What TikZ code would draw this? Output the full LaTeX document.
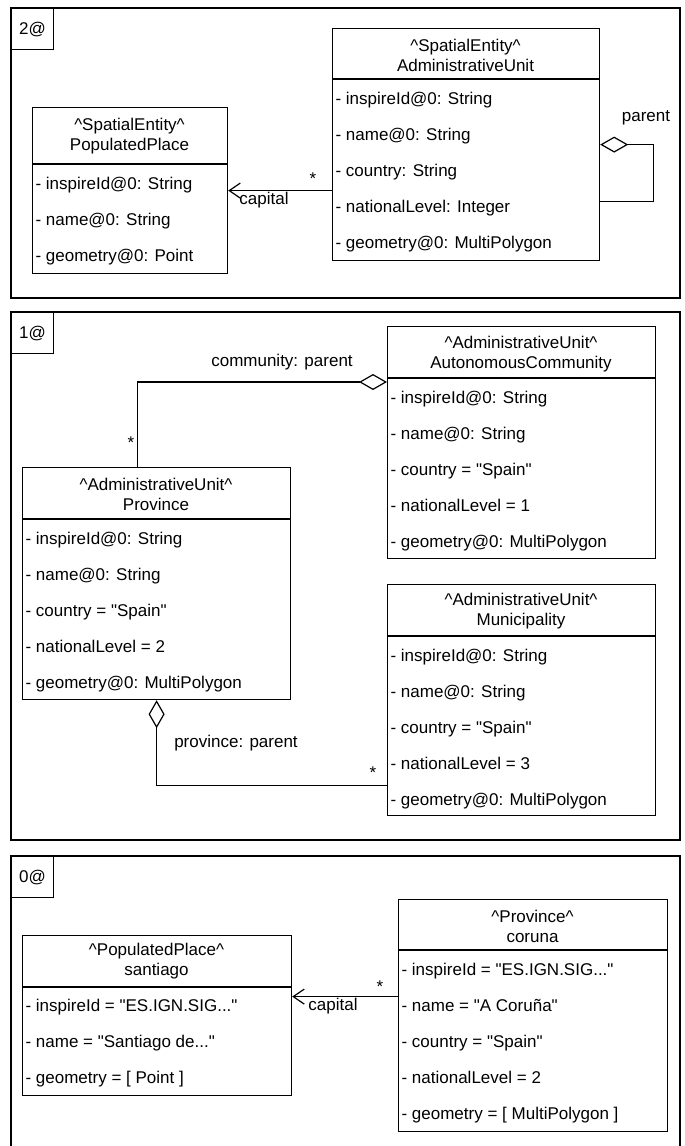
\documentclass[tikz,border=0pt]{standalone}
\usepackage{fontspec}
\newfontfamily\umlfont{Liberation Sans}
\usetikzlibrary{arrows.meta}

\newcommand{\trail}{...}

\tikzset{
  frame/.style={draw,line width=1.2pt},
  tag/.style={draw,line width=1.2pt,anchor=north west,inner sep=0pt,minimum width=42pt,minimum height=41pt},
  box/.style={draw,fill=white,line width=1.2pt,anchor=north west,inner sep=0pt},
  head/.style={align=center,inner sep=0pt},
  attr/.style={anchor=base west,inner sep=0pt},
  lbl/.style={inner sep=0pt},
  assoc/.style={-{Straight Barb[length=11pt,width=15pt]}},
  agg/.style={{Diamond[open,length=28pt,width=16pt]}-},
}

\begin{document}
\begin{tikzpicture}[x=1pt,y=-1pt,line width=1.2pt,font=\umlfont\fontsize{17}{20}\selectfont]
  \useasboundingbox (0,0) rectangle (685,1146);
  \clip (0,0) rectangle (685,1146);

  % ---- level 2
  \draw[frame] (11,8) rectangle (680,298);
  \node[tag] (f2) at (11,8) {2@};

  \node[box,minimum width=195pt,minimum height=166pt] (pp) at (32,107) {};
  \draw (pp.north west) ++(0,57) -- ++(195,0);
  \node[head] (pp-h) at (129.5,136) {\textasciicircum SpatialEntity\textasciicircum\\PopulatedPlace};
  \foreach \a [count=\i] in {inspireId@0: String,name@0: String,geometry@0: Point}
    \node[attr] (pp-\i) at (35,153+36*\i) {- \a};

  \node[box,minimum width=267pt,minimum height=232pt] (au) at (332,28) {};
  \draw (au.north west) ++(0,51) -- ++(267,0);
  \node[head] (au-h) at (465.5,55) {\textasciicircum SpatialEntity\textasciicircum\\AdministrativeUnit};
  \foreach \a [count=\i] in {inspireId@0: String,name@0: String,country: String,nationalLevel: Integer,geometry@0: MultiPolygon}
    \node[attr] (au-\i) at (335,68+36*\i) {- \a};

  \draw[assoc] (au.west |- pp.east) -- (pp.east);
  \node[lbl] (cap2) at (264,200) {capital};
  \node[lbl] (m2) at (313,179) {*};
  \draw[agg] (au.east) -- ++(53,0) |- ([yshift=-57pt]au.east);
  \node[lbl] (par2) at (646,118) {parent};

  % ---- level 1
  \draw[frame] (11,312) rectangle (680,840);
  \node[tag] (f1) at (11,312) {1@};

  \node[box,minimum width=268pt,minimum height=232pt] (ac) at (387,326) {};
  \draw (ac.north west) ++(0,52) -- ++(268,0);
  \node[head] (ac-h) at (521,354) {\textasciicircum AdministrativeUnit\textasciicircum\\AutonomousCommunity};
  \foreach \a [count=\i] in {inspireId@0: String,name@0: String,country = "Spain",nationalLevel = 1,geometry@0: MultiPolygon}
    \node[attr] (ac-\i) at (390,367+36*\i) {- \a};

  \node[box,minimum width=268pt,minimum height=232pt] (prov) at (22,467) {};
  \draw (prov.north west) ++(0,52) -- ++(268,0);
  \node[head] (prov-h) at (156,494) {\textasciicircum AdministrativeUnit\textasciicircum\\Province};
  \foreach \a [count=\i] in {inspireId@0: String,name@0: String,country = "Spain",nationalLevel = 2,geometry@0: MultiPolygon}
    \node[attr] (prov-\i) at (25,508+36*\i) {- \a};

  \node[box,minimum width=268pt,minimum height=231pt] (muni) at (387,584) {};
  \draw (muni.north west) ++(0,52) -- ++(268,0);
  \node[head] (muni-h) at (521,611) {\textasciicircum AdministrativeUnit\textasciicircum\\Municipality};
  \foreach \a [count=\i] in {inspireId@0: String,name@0: String,country = "Spain",nationalLevel = 3,geometry@0: MultiPolygon}
    \node[attr] (muni-\i) at (390,625+36*\i) {- \a};

  \draw[agg] ([yshift=-56pt]ac.north west) -| ([xshift=-19pt]prov.north);
  \node[lbl] (com) at (282,362) {community: parent};
  \node[lbl] (m1a) at (131,443) {*};
  \draw[agg] (prov.south) |- ([yshift=-85.5pt]muni.west);
  \node[lbl] (pro) at (236,743) {province: parent};
  \node[lbl] (m1b) at (373,773) {*};

  % ---- level 0
  \draw[frame] (11,856) rectangle (680,1160);
  \node[tag] (f0) at (11,856) {0@};

  \node[box,minimum width=269pt,minimum height=160pt] (san) at (22,935) {};
  \draw (san.north west) ++(0,52) -- ++(269,0);
  \node[head] (san-h) at (156.5,961) {\textasciicircum PopulatedPlace\textasciicircum\\santiago};
  \foreach \a [count=\i] in {inspireId = "ES.IGN.SIG\trail",name = "Santiago de\trail",geometry = [ Point ]}
    \node[attr] (san-\i) at (25,975.5+36*\i) {- \a};

  \node[box,minimum width=269pt,minimum height=232pt] (cor) at (398,899) {};
  \draw (cor.north west) ++(0,51) -- ++(269,0);
  \node[head] (cor-h) at (532.5,926) {\textasciicircum Province\textasciicircum\\coruna};
  \foreach \a [count=\i] in {inspireId = "ES.IGN.SIG\trail",name = "A Coruña",country = "Spain",nationalLevel = 2,geometry = [ MultiPolygon ]}
    \node[attr] (cor-\i) at (401,939+36*\i) {- \a};

  \draw[assoc] ([yshift=19pt]cor.west) -- ([yshift=19pt]san.east);
  \node[lbl] (cap0) at (333,1006) {capital};
  \node[lbl] (m0) at (380,987) {*};
\end{tikzpicture}
\end{document}
